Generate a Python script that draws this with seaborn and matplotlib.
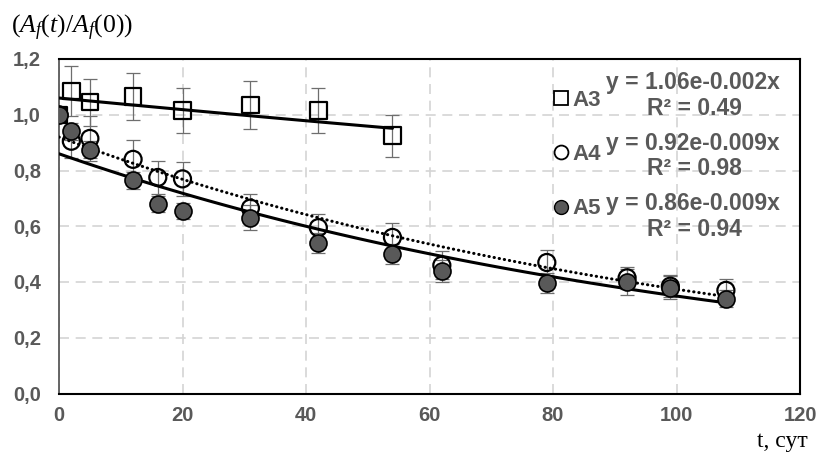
import numpy as np
import matplotlib
matplotlib.use("Agg")
import matplotlib.pyplot as plt
from matplotlib.lines import Line2D
import seaborn as sns

# sampling days (t, days)
days_a3 = [0, 2, 5, 12, 20, 31, 42, 54]
days_a45 = [0, 2, 5, 12, 16, 20, 31, 42, 54, 62, 79, 92, 99, 108]

# normalised activity Af(t)/Af(0) with error bars
ratio_a3 = [1.0, 1.085, 1.045, 1.065, 1.015, 1.035, 1.015, 0.925]
err_a3 = [0.0, 0.09, 0.085, 0.085, 0.08, 0.085, 0.08, 0.075]
ratio_a4 = [1.0, 0.905, 0.915, 0.84, 0.775, 0.77, 0.665, 0.595, 0.56, 0.46, 0.47, 0.415, 0.385, 0.37]
err_a4 = [0.0, 0.06, 0.08, 0.07, 0.06, 0.06, 0.05, 0.05, 0.05, 0.05, 0.045, 0.04, 0.04, 0.04]
ratio_a5 = [1.0, 0.94, 0.875, 0.765, 0.68, 0.655, 0.63, 0.54, 0.50, 0.44, 0.395, 0.40, 0.38, 0.34]
err_a5 = [0.0, 0.03, 0.03, 0.03, 0.03, 0.03, 0.045, 0.036, 0.036, 0.04, 0.036, 0.045, 0.04, 0.03]

# exponential trendlines y = a*exp(b*x)
series_names = ["A3", "A4", "A5"]
fit_a = [1.06, 0.92, 0.86]
fit_b = [-0.002, -0.009, -0.009]
fit_r2 = ["0.49", "0.98", "0.94"]
fit_end = [54, 108, 108]

GREY = "#595959"

sns.set_theme(style="white")
plt.rcParams["font.family"] = ["Liberation Sans", "DejaVu Sans"]
plt.rcParams["mathtext.fontset"] = "custom"
plt.rcParams["mathtext.rm"] = "Liberation Serif"
plt.rcParams["mathtext.it"] = "Liberation Serif:italic"

fig = plt.figure(figsize=(8.21, 4.59), dpi=100)
ax = fig.add_axes([59 / 821, 1 - 393.5 / 459, 741 / 821, 334.5 / 459])

# error bars
for days, vals, errs in [(days_a3, ratio_a3, err_a3), (days_a45, ratio_a4, err_a4), (days_a45, ratio_a5, err_a5)]:
    ax.errorbar(days, vals, yerr=errs, fmt="none", ecolor="#6e6e6e", elinewidth=0.9,
                capsize=5, capthick=0.9, zorder=2)

# trendlines
styles = ["-", (0, (0.1, 1.6)), "-"]
for a, b, end, ls in zip(fit_a, fit_b, fit_end, styles):
    xs = np.linspace(0, end, 100)
    sns.lineplot(x=xs, y=a * np.exp(b * xs), ax=ax, color="black", linewidth=2.2,
                 linestyle=ls, dash_capstyle="round", zorder=3)

# markers
sns.scatterplot(x=days_a3, y=ratio_a3, ax=ax, marker="s", s=140, color="white",
                edgecolor="black", linewidth=1.6, zorder=4)
sq = ax.collections[-1]
sq.set_facecolors(["#3a3a3a"] + ["none"] * (len(days_a3) - 1))
sns.scatterplot(x=days_a45, y=ratio_a4, ax=ax, marker="o", s=150, color="white",
                edgecolor="black", linewidth=1.6, zorder=5)
ax.collections[-1].set_facecolors("none")
sns.scatterplot(x=days_a45, y=ratio_a5, ax=ax, marker="o", s=150, color=GREY,
                edgecolor="black", linewidth=1.2, zorder=6)

ax.set_xlim(0, 120)
ax.set_ylim(0, 1.2)
ax.set_xticks(range(0, 121, 20))
ax.set_yticks(np.arange(0, 1.21, 0.2))
ax.set_yticklabels([f"{v:.1f}".replace(".", ",") for v in np.arange(0, 1.21, 0.2)])
ax.tick_params(length=0, labelsize=14.5, labelcolor=GREY)
ax.tick_params(axis="y", pad=13)
ax.tick_params(axis="x", pad=9)
for lbl in ax.get_xticklabels() + ax.get_yticklabels():
    lbl.set_fontweight("bold")

ax.grid(True, color="#d4d4d4", linewidth=1.2, linestyle=(0, (6, 4)))
for side in ["top", "right", "bottom"]:
    ax.spines[side].set_color("black")
    ax.spines[side].set_linewidth(1.5)
ax.spines["left"].set_color(GREY)
ax.spines["left"].set_linewidth(1.3)
ax.set_xlabel("")
ax.set_ylabel("")

# legend
handles = [
    Line2D([], [], marker="s", ls="none", markersize=10, mfc="white", mec="black", mew=1.3),
    Line2D([], [], marker="o", ls="none", markersize=10, mfc="white", mec="black", mew=1.3),
    Line2D([], [], marker="o", ls="none", markersize=10, mfc=GREY, mec="black", mew=1.0),
]
ax.legend(handles, series_names, loc="upper left", bbox_to_anchor=(0.663, 0.908),
          frameon=False, handletextpad=0.06, labelspacing=1.5, handlelength=0.95,
          borderaxespad=0, borderpad=0, prop=dict(weight="bold", size=16), labelcolor=GREY)

eq_y = [0.929, 0.748, 0.569]
r2_y = [0.853, 0.673, 0.489]
for a, b, r2, ey, ry in zip(fit_a, fit_b, fit_r2, eq_y, r2_y):
    b_txt = f"{b:.3f}"
    ax.text(0.855, ey, f"y = {a:.2f}e{b_txt}x", transform=ax.transAxes, ha="center",
            va="center", fontsize=16.5, fontweight="bold", color=GREY, zorder=7)
    ax.text(0.857, ry, f"R² = {r2}", transform=ax.transAxes, ha="center",
            va="center", fontsize=16.5, fontweight="bold", color=GREY, zorder=7)

fig.text(11 / 821, 1 - 28 / 459, r"$(A_f(t)/A_f(\mathit{0}))$", ha="left", va="center",
         fontsize=18.5, color="black")
fig.text(808 / 821, 1 - 441 / 459, "t, сут", ha="right", va="center",
         fontsize=17, family="Liberation Serif", color="black")

fig.savefig("out.png", dpi=100)
